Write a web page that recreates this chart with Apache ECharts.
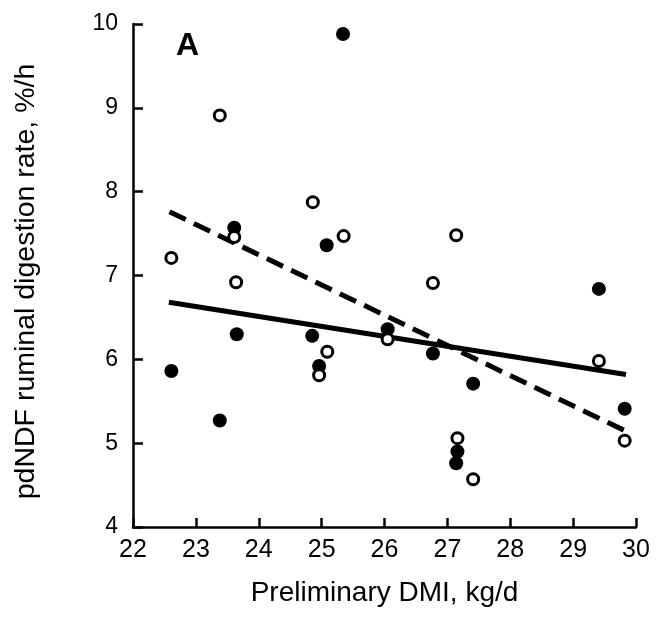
<!DOCTYPE html>
<html>
<head>
<meta charset="utf-8">
<script src="https://cdn.jsdelivr.net/npm/echarts@6/dist/echarts.min.js"></script>
<style>
  html, body { margin: 0; padding: 0; background: #fff; }
  #chart { width: 656px; height: 623px; }
</style>
</head>
<body>
<div id="chart"></div>
<script>
// filled circles [DMI, rate]
const filledPts = [
  [22.61, 5.86], [23.38, 5.27], [23.61, 7.57], [23.65, 6.30],
  [24.85, 6.28], [24.96, 5.92], [25.08, 7.36], [25.34, 9.88],
  [26.05, 6.36], [26.77, 6.07], [27.14, 4.76], [27.16, 4.90],
  [27.41, 5.71], [29.41, 6.84], [29.82, 5.41]
];
// open circles
const openPts = [
  [22.61, 7.21], [23.38, 8.91], [23.61, 7.46], [23.64, 6.92],
  [24.86, 7.875], [24.96, 5.81], [25.09, 6.09], [25.35, 7.47],
  [26.05, 6.24], [26.77, 6.91], [27.14, 7.48], [27.16, 5.06],
  [27.41, 4.57], [29.41, 5.98], [29.82, 5.03]
];
// regression lines (end points)
const solidFit = [[22.57, 6.68], [29.84, 5.82]];
const dashedFit = [[22.58, 7.76], [29.82, 5.15]];

const xTicks = [22, 30, 1];
const yTicks = [4, 10, 1];

const chart = echarts.init(document.getElementById('chart'));
const font = 'Liberation Sans, Arial, sans-serif';

const option = {
  backgroundColor: '#fff',
  animation: false,
  grid: { left: 133, right: 20, top: 24, bottom: 96 },
  xAxis: {
    type: 'value',
    min: xTicks[0], max: xTicks[1], interval: xTicks[2],
    name: 'Preliminary DMI, kg/d',
    nameLocation: 'middle',
    nameGap: 52,
    nameTextStyle: { fontFamily: font, fontSize: 28, color: '#000' },
    axisLine: { lineStyle: { color: '#000', width: 2.5 } },
    axisTick: { inside: true, length: 9, lineStyle: { color: '#000', width: 2.5 } },
    axisLabel: { margin: 11, fontFamily: font, fontSize: 25, color: '#000' },
    splitLine: { show: false }
  },
  yAxis: {
    type: 'value',
    min: yTicks[0], max: yTicks[1], interval: yTicks[2],
    name: 'pdNDF ruminal digestion rate, %/h',
    nameLocation: 'middle',
    nameRotate: 90,
    nameGap: 92,
    nameTextStyle: { fontFamily: font, fontSize: 28.5, color: '#000', padding: [0, 12, 0, 0] },
    axisLine: { lineStyle: { color: '#000', width: 2.5 } },
    axisTick: { inside: true, length: 10, lineStyle: { color: '#000', width: 2.5 } },
    axisLabel: { margin: 15, fontFamily: font, fontSize: 23, color: '#000' },
    splitLine: { show: false }
  },
  graphic: [{
    type: 'text', left: 176, top: 30,
    style: { text: 'A', font: 'bold 32px ' + font, fill: '#000' }
  }],
  series: [
    {
      name: 'solid fit', type: 'line', data: solidFit,
      symbol: 'none', z: 2,
      lineStyle: { color: '#000', width: 5 }
    },
    {
      name: 'dashed fit', type: 'line', data: dashedFit,
      symbol: 'none', z: 2,
      lineStyle: { color: '#000', width: 5, type: [18, 9] }
    },
    {
      name: 'filled', type: 'scatter', data: filledPts,
      symbol: 'circle', symbolSize: 14, z: 3,
      itemStyle: { color: '#000', opacity: 1 }
    },
    {
      name: 'open', type: 'scatter', data: openPts,
      symbol: 'circle', symbolSize: 11, z: 4,
      itemStyle: { color: '#fff', borderColor: '#000', borderWidth: 3, opacity: 1 }
    }
  ]
};

chart.setOption(option);
</script>
</body>
</html>
